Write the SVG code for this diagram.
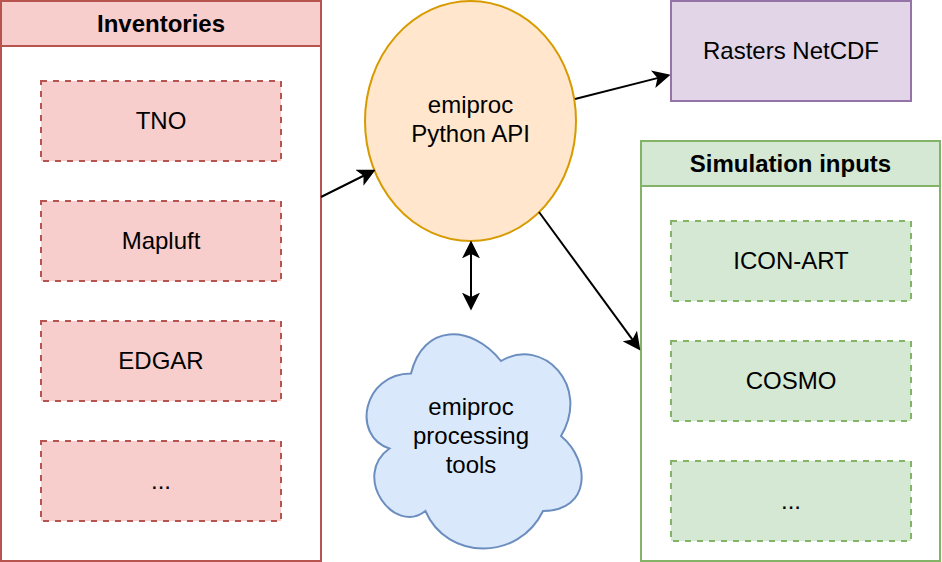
<svg xmlns="http://www.w3.org/2000/svg" width="942" height="562" viewBox="0 0 942 562">
<style>
text{font-family:"Liberation Sans",Arial,Helvetica,sans-serif;font-size:24px;fill:#000;text-anchor:middle}
.b{font-weight:bold}
.red{fill:#f8cecc;stroke:#b85450;stroke-width:2}
.grn{fill:#d5e8d4;stroke:#82b366;stroke-width:2}
.dash{stroke-dasharray:6 6}
.edge{fill:none;stroke:#000;stroke-width:2}
</style>
<defs>
<marker id="arr" markerUnits="userSpaceOnUse" markerWidth="18" markerHeight="18" viewBox="0 0 17 17" refX="7" refY="8.5" orient="auto-start-reverse">
<path d="M0,0 L17,8.5 L0,17 L4.25,8.5 Z" fill="#000"/>
</marker>
</defs>
<rect width="942" height="562" fill="#fff"/>
<g id="inventories">
<rect class="red" x="1" y="1" width="320" height="560" style="fill:#fff"/>
<rect class="red" x="1" y="1" width="320" height="45"/>
<text class="b" x="161" y="32">Inventories</text>
</g>
<g id="tno"><rect class="red dash" x="41" y="81" width="240" height="80"/><text x="161" y="128.5">TNO</text></g>
<g id="mapluft"><rect class="red dash" x="41" y="201" width="240" height="80"/><text x="161" y="248.5">Mapluft</text></g>
<g id="edgar"><rect class="red dash" x="41" y="321" width="240" height="80"/><text x="161" y="368.5">EDGAR</text></g>
<g id="inv-more"><rect class="red dash" x="41" y="441" width="240" height="80"/><text x="161" y="488.5">...</text></g>
<g id="api">
<ellipse cx="470.5" cy="121" rx="105.5" ry="120" fill="#ffe6cc" stroke="#d79b00" stroke-width="2"/>
<text x="470.5" y="113">emiproc</text>
<text x="470.5" y="142">Python API</text>
</g>
<g id="rasters">
<rect x="671" y="1" width="240" height="100" fill="#e1d5e7" stroke="#9673a6" stroke-width="2"/>
<text x="791" y="58.5">Rasters NetCDF</text>
</g>
<g id="simulation">
<rect class="grn" x="641" y="141" width="299" height="420" style="fill:#fff"/>
<rect class="grn" x="641" y="141" width="299" height="45"/>
<text class="b" x="790.5" y="172">Simulation inputs</text>
</g>
<g id="icon-art"><rect class="grn dash" x="671" y="221" width="240" height="80"/><text x="791" y="268.5">ICON-ART</text></g>
<g id="cosmo"><rect class="grn dash" x="671" y="341" width="240" height="80"/><text x="791" y="388.5">COSMO</text></g>
<g id="sim-more"><rect class="grn dash" x="671" y="461" width="240" height="80"/><text x="791" y="508.5">...</text></g>
<g id="tools">
<path d="M411,373.5 C363,373.5 351,436 389.4,448.5 C351,476 394.2,536 425.4,511 C447,561 519,561 543,511 C591,511 591,461 561,436 C591,386 543,336 501,361 C471,323.5 423,323.5 411,373.5 Z" fill="#dae8fc" stroke="#6c8ebf" stroke-width="2"/>
<text x="471" y="415">emiproc</text>
<text x="471" y="444">processing</text>
<text x="471" y="473">tools</text>
</g>
<g id="connectors">
<path class="edge" d="M321,197 L366.1,174.5" marker-end="url(#arr)"/>
<path class="edge" d="M575,99 L660.3,77.4" marker-end="url(#arr)"/>
<path class="edge" d="M539,212 L634.1,341.9" marker-end="url(#arr)"/>
<path class="edge" d="M471,251 L471,300" marker-start="url(#arr)" marker-end="url(#arr)"/>
</g>
</svg>
